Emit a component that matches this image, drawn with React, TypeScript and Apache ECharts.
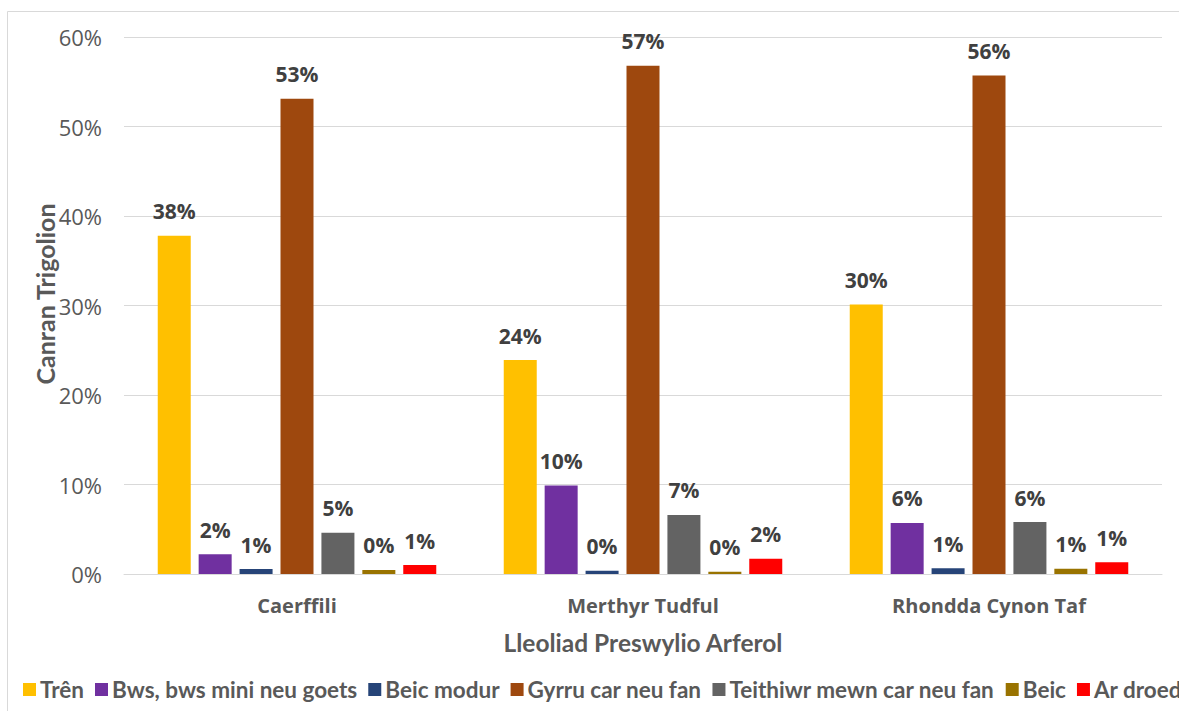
import React, { useEffect, useRef } from "react";
import * as echarts from "echarts";

const categories = ["Caerffili", "Merthyr Tudful", "Rhondda Cynon Taf"];
const seriesNames = [
  "Trên",
  "Bws, bws mini neu goets",
  "Beic modur",
  "Gyrru car neu fan",
  "Teithiwr mewn car neu fan",
  "Beic",
  "Ar droed",
];
const tren = [37.8, 23.9, 30.1];
const bws = [2.2, 9.9, 5.7];
const beicModur = [0.55, 0.35, 0.65];
const gyrru = [53.1, 56.8, 55.7];
const teithiwr = [4.6, 6.6, 5.8];
const beic = [0.45, 0.25, 0.6];
const arDroed = [1.0, 1.7, 1.3];
const seriesValues = [tren, bws, beicModur, gyrru, teithiwr, beic, arDroed];
const colors = ["#FFC000", "#7030A0", "#264478", "#9E480E", "#636363", "#997300", "#FF0000"];
const yTicks = [0, 10, 20, 30, 40, 50, 60];
const xTitle = "Lleoliad Preswylio Arferol";
const yTitle = "Canran Trigolion";

const titleFont = "Lato, 'Noto Sans', sans-serif";
const bodyFont = "'Open Sans', 'Noto Sans', sans-serif";

export default function App() {
  const ref = useRef<HTMLDivElement>(null);
  useEffect(() => {
    if (!ref.current) return;
    const chart = echarts.init(ref.current, null, { renderer: "svg" });
    chart.setOption({
      animation: false,
      backgroundColor: "#ffffff",
      graphic: [
        {
          type: "rect",
          shape: { x: 7.5, y: 11.5, width: 1400, height: 1000 },
          style: { fill: "none", stroke: "#d9d9d9", lineWidth: 1 },
          silent: true,
          z: -10,
        },
        {
          type: "text",
          x: 45,
          y: 294,
          rotation: Math.PI / 2,
          style: {
            text: yTitle,
            fontFamily: titleFont,
            fontWeight: "bold",
            fontSize: 25,
            fill: "#595959",
            align: "center",
            verticalAlign: "middle",
          },
        },
      ],
      legend: {
        left: 18,
        top: 673,
        width: 3000,
        itemWidth: 13,
        itemHeight: 13,
        itemGap: 11,
        icon: "rect",
        textStyle: { fontFamily: titleFont, fontWeight: "bold", fontSize: 22.5, color: "#595959", padding: [0, 0, 0, -1] },
        data: seriesNames,
      },
      grid: { left: 124, right: 17, top: 37, bottom: 137, containLabel: false },
      xAxis: {
        type: "category",
        data: categories,
        name: xTitle,
        nameLocation: "middle",
        nameGap: 56,
        nameTextStyle: { fontFamily: titleFont, fontWeight: "bold", fontSize: 24.5, color: "#595959" },
        axisLine: { lineStyle: { color: "#d9d9d9", width: 1 } },
        axisTick: { show: false },
        axisLabel: { fontFamily: bodyFont, fontWeight: "bold", fontSize: 20, color: "#595959", margin: 21 },
      },
      yAxis: {
        type: "value",
        min: yTicks[0],
        max: yTicks[yTicks.length - 1],
        interval: 10,
        axisLine: { show: false },
        axisTick: { show: false },
        splitLine: { lineStyle: { color: "#d9d9d9", width: 1 } },
        axisLabel: {
          fontFamily: bodyFont,
          fontSize: 22,
          color: "#595959",
          margin: 22,
          formatter: (v: number) => v + "%",
        },
      },
      series: seriesNames.map((name, i) => ({
        name,
        type: "bar",
        data: seriesValues[i],
        barWidth: 33,
        barGap: "24%",
        itemStyle: { color: colors[i] },
        label: {
          show: true,
          position: "top",
          distance: 14,
          fontFamily: bodyFont,
          fontWeight: "bold",
          fontSize: 21,
          color: "#404040",
          formatter: (p: any) => Math.round(p.value) + "%",
        },
      })),
    });
    return () => chart.dispose();
  }, []);
  return (
    <div
      ref={ref}
      style={{ position: "absolute", left: 0, top: 0, width: 1179, height: 711 }}
    />
  );
}
